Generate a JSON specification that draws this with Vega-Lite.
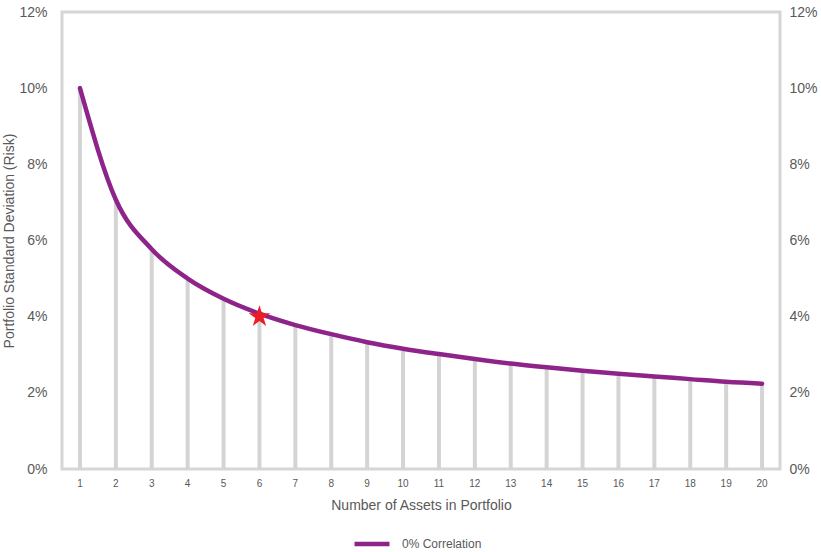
{
  "$schema": "https://vega.github.io/schema/vega-lite/v6.json",
  "width": 718,
  "height": 457,
  "autosize": "none",
  "padding": {"left": 62, "top": 12, "right": 41, "bottom": 83},
  "config": {
    "font": "Liberation Sans",
    "view": {"stroke": "#d6d6d6", "strokeWidth": 3},
    "axis": {"grid": false, "ticks": false, "domain": false, "labelColor": "#595959", "titleColor": "#595959", "titleFontWeight": "normal"}
  },
  "datasets": {
    "risk": [
      {"n": 1, "risk": 0.1, "series": "0% Correlation"},
      {"n": 2, "risk": 0.0707, "series": "0% Correlation"},
      {"n": 3, "risk": 0.0577, "series": "0% Correlation"},
      {"n": 4, "risk": 0.05, "series": "0% Correlation"},
      {"n": 5, "risk": 0.0447, "series": "0% Correlation"},
      {"n": 6, "risk": 0.0408, "series": "0% Correlation"},
      {"n": 7, "risk": 0.0378, "series": "0% Correlation"},
      {"n": 8, "risk": 0.0354, "series": "0% Correlation"},
      {"n": 9, "risk": 0.0333, "series": "0% Correlation"},
      {"n": 10, "risk": 0.0316, "series": "0% Correlation"},
      {"n": 11, "risk": 0.0302, "series": "0% Correlation"},
      {"n": 12, "risk": 0.0289, "series": "0% Correlation"},
      {"n": 13, "risk": 0.0277, "series": "0% Correlation"},
      {"n": 14, "risk": 0.0267, "series": "0% Correlation"},
      {"n": 15, "risk": 0.0258, "series": "0% Correlation"},
      {"n": 16, "risk": 0.025, "series": "0% Correlation"},
      {"n": 17, "risk": 0.0243, "series": "0% Correlation"},
      {"n": 18, "risk": 0.0236, "series": "0% Correlation"},
      {"n": 19, "risk": 0.0229, "series": "0% Correlation"},
      {"n": 20, "risk": 0.0224, "series": "0% Correlation"}
    ],
    "star": [{"n": 6, "risk": 0.04}]
  },
  "layer": [
    {
      "layer": [
        {
          "data": {"name": "risk"},
          "mark": {"type": "bar", "color": "#d4d4d4", "size": 4},
          "encoding": {
            "x": {"field": "n", "type": "ordinal", "scale": {"type": "band", "paddingInner": 0, "paddingOuter": 0},
              "axis": {"labelAngle": 0, "title": "Number of Assets in Portfolio", "titleFontSize": 14, "labelFontSize": 10, "labelPadding": 9, "titlePadding": 10}},
            "y": {"field": "risk", "type": "quantitative", "scale": {"domain": [0, 0.12], "nice": false},
              "axis": {"values": [0, 0.02, 0.04, 0.06, 0.08, 0.1, 0.12], "format": ".0%", "title": "Portfolio Standard Deviation (Risk)", "titleFontSize": 14, "labelFontSize": 14, "labelPadding": 15, "titlePadding": 2, "labelOverlap": false}}
          }
        },
        {
          "data": {"name": "risk"},
          "mark": {"type": "line", "interpolate": "monotone", "strokeWidth": 4.5, "strokeCap": "round"},
          "encoding": {
            "x": {"field": "n", "type": "ordinal"},
            "y": {"field": "risk", "type": "quantitative"},
            "color": {"field": "series", "type": "nominal", "scale": {"range": ["#8e2489"]},
              "legend": {"orient": "none", "legendX": 290, "legendY": 512, "direction": "horizontal", "title": null, "symbolType": "stroke", "symbolStrokeWidth": 4.5, "symbolSize": 1225, "labelOffset": 10, "labelFontSize": 12, "labelColor": "#595959"}}
          }
        },
        {
          "data": {"name": "star"},
          "mark": {"type": "point", "filled": true, "color": "#ed1c24", "opacity": 1, "size": 520,
            "shape": "M0,-1L0.2245,-0.309L0.951,-0.309L0.363,0.118L0.588,0.809L0,0.382L-0.588,0.809L-0.363,0.118L-0.951,-0.309L-0.2245,-0.309Z"},
          "encoding": {
            "x": {"field": "n", "type": "ordinal"},
            "y": {"field": "risk", "type": "quantitative"}
          }
        }
      ]
    },
    {
      "data": {"name": "risk"},
      "mark": {"type": "point", "opacity": 0},
      "encoding": {
        "x": {"field": "n", "type": "ordinal"},
        "y": {"field": "risk", "type": "quantitative", "scale": {"domain": [0, 0.12], "nice": false},
          "axis": {"orient": "right", "values": [0, 0.02, 0.04, 0.06, 0.08, 0.1, 0.12], "format": ".0%", "title": null, "labelFontSize": 14, "labelPadding": 9, "labelOverlap": false}}
      }
    }
  ],
  "resolve": {"axis": {"y": "independent"}}
}
